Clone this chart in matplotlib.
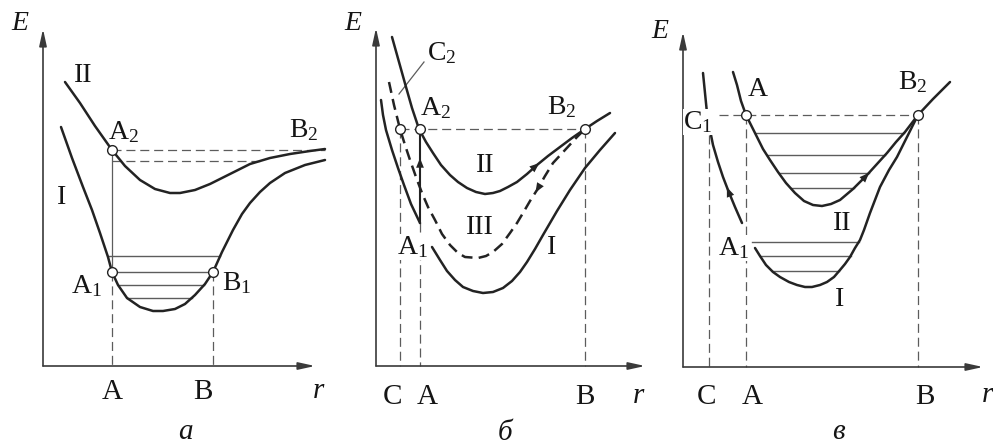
import numpy as np
import matplotlib
matplotlib.use("Agg")
import matplotlib.pyplot as plt

plt.rcParams['font.family'] = ['Liberation Serif', 'DejaVu Serif']
plt.rcParams['mathtext.fontset'] = 'custom'
plt.rcParams['mathtext.rm'] = 'Liberation Serif'
plt.rcParams['mathtext.it'] = 'Liberation Serif:italic'
plt.rcParams['lines.scale_dashes'] = False

# ---------------- panel "а": curves (r, E) ----------------
A_II_R = [22, 37, 52, 69, 82, 97, 112, 127, 137, 152, 167, 187, 207, 227, 247, 267, 282]
A_II_E = [284, 263, 240, 216, 200, 186, 177, 173, 173, 176, 182, 192, 202, 208, 212, 215, 217]
A_I_R = [18, 29, 40, 49, 57, 65, 69, 75, 84, 97, 110, 120, 132, 142, 152, 162, 170, 179,
         190, 199, 207, 217, 227, 242, 262, 282]
A_I_E = [239, 208, 179, 156, 133, 109, 94, 81, 68, 59, 55, 55, 57, 62, 71, 82, 94, 114,
         136, 152, 163, 174, 183, 193, 201, 206]
A_LEVELS = [110, 94, 81, 68]
A_POS = {'A': 69, 'B': 170}
A_E_A2, A_E_A1, A_E_DISS = 216, 94, 205

# ---------------- panel "б" ----------------
B_II_R = [16, 23, 30, 36, 43, 50, 57, 65, 74, 82, 91, 100, 109, 117, 124, 132, 141, 151,
          161, 172, 184, 196, 209, 221, 234]
B_II_E = [329, 304, 279, 258, 237, 224, 213, 201, 191, 184, 178, 174, 172, 173, 175, 179,
          184, 192, 201, 210, 219, 228, 237, 245, 253]
B_III_R = [13, 18, 24, 29, 34, 40, 46, 52, 59, 66, 74, 82, 89, 102, 110, 117, 126, 134,
           141, 147, 154, 161, 169, 177, 189, 201, 209]
B_III_E = [284, 261, 237, 221, 206, 189, 173, 159, 146, 132, 121, 113, 109, 108, 110, 114,
           122, 133, 143, 153, 165, 176, 190, 203, 216, 229, 237]
B_I_UP_R = [5, 7, 10, 16, 22, 28, 35, 44]
B_I_UP_E = [266, 251, 236, 216, 198, 181, 162, 143]
B_I_LO_R = [56, 64, 71, 79, 87, 97, 107, 117, 127, 136, 144, 151, 159, 167, 174, 181, 194,
            209, 224, 239]
B_I_LO_E = [119, 106, 95, 86, 79, 75, 73, 74, 78, 85, 94, 104, 117, 131, 143, 155, 176,
            198, 216, 233]
B_POS = {'C': 24, 'A': 44, 'B': 209}
B_E_TOP, B_E_A1 = 237, 143

# ---------------- panel "в" ----------------
V_II_R = [50, 54, 58, 63, 68, 74, 80, 87, 95, 103, 112, 121, 130, 139, 148, 157, 170, 184,
          194, 204, 213, 222, 235, 250, 267]
V_II_E = [295, 282, 266, 252, 242, 230, 218, 207, 195, 184, 174, 166, 162, 161, 163, 167,
          178, 192, 203, 214, 225, 235, 252, 268, 285]
V_I_UP_R = [20, 22, 24, 27, 30, 35, 40, 45, 52, 59]
V_I_UP_E = [294, 274, 254, 237, 222, 205, 190, 177, 160, 144]
V_I_LO_R = [72, 77, 83, 90, 97, 106, 114, 122, 129, 137, 144, 151, 157, 162, 167, 172, 177,
            181, 187, 197, 206, 214, 225, 235]
V_I_LO_E = [119, 111, 102, 95, 90, 85, 82, 80, 80, 82, 85, 90, 97, 103, 110, 119, 127, 137,
            154, 180, 197, 210, 232, 252]
V_LEVELS_UP = [234, 212, 194, 179]
V_LEVELS_LO = [125, 111, 96]
V_POS = {'C': 26, 'A': 63, 'B': 235}
V_E_TOP = 252

# ---------------- styles ----------------
INK = '#232323'
GREY = '#5c5c5c'
CURVE = dict(color=INK, lw=1.8, solid_capstyle='round', clip_on=False, zorder=3)
THIN = dict(color=GREY, lw=0.9, clip_on=False, zorder=2)
DASH = (0, (6.5, 3.5))
LBL = 20
TICK = 21

FIG_W, FIG_H = 993, 447
fig = plt.figure(figsize=(FIG_W / 100, FIG_H / 100), dpi=100)
fig.patch.set_facecolor('white')


def panel(x0, y0, w, h):
    ax = fig.add_axes([x0 / FIG_W, (FIG_H - y0) / FIG_H, w / FIG_W, h / FIG_H])
    ax.set_xlim(0, w)
    ax.set_ylim(0, h)
    ax.axis('off')
    return ax


def crossings(r, e, level):
    r = np.asarray(r, float)
    e = np.asarray(e, float)
    out = []
    for i in range(len(r) - 1):
        a, b = e[i] - level, e[i + 1] - level
        if a == 0:
            out.append(r[i])
        elif a * b < 0:
            t = a / (a - b)
            out.append(r[i] + t * (r[i + 1] - r[i]))
    return out


def levels(ax, r, e, lvls):
    for lv in lvls:
        xs = crossings(r, e, lv)
        ax.plot([min(xs), max(xs)], [lv, lv], color=GREY, lw=1.0, zorder=2)


def frame(ax, r_end, e_end):
    style = '-|>,head_length=1.0,head_width=0.22'
    for xy in [(0, e_end), (r_end, 0)]:
        ax.annotate('', xy=xy, xytext=(0, 0),
                    arrowprops=dict(arrowstyle=style, mutation_scale=10, lw=1.2,
                                    color='#3a3a3a', shrinkA=0, shrinkB=0))


def arrow_on(ax, r, e, i, reverse=False):
    p = np.array([r[i], e[i]], float)
    d = np.array([r[i + 1] - r[i - 1], e[i + 1] - e[i - 1]], float)
    d /= np.hypot(*d)
    if reverse:
        d = -d
    ax.annotate('', xy=p + d * 3, xytext=p - d * 5,
                arrowprops=dict(arrowstyle='-|>,head_length=1.0,head_width=0.4',
                                mutation_scale=7, lw=0, color=INK,
                                shrinkA=0, shrinkB=0), zorder=4)


def dot(ax, r, e):
    ax.plot([r], [e], 'o', ms=7, mfc='white', mec=INK, mew=1.0, zorder=6, clip_on=False)


def label(ax, r, e, s, size=LBL, white=False, **kw):
    bbox = dict(fc='white', ec='none', pad=0.3) if white else None
    ax.text(r, e, s, fontsize=size, ha='center', va='center', color='#151515',
            bbox=bbox, zorder=5, **kw)


# ================= а =================
ax = panel(43, 366, 300, 345)
frame(ax, 272, 337)
ax.plot(A_II_R, A_II_E, **CURVE)
ax.plot(A_I_R, A_I_E, **CURVE)
levels(ax, A_I_R, A_I_E, A_LEVELS)
ra, rb = A_POS['A'], A_POS['B']
ax.plot([ra, max(A_II_R)], [A_E_A2, A_E_A2], ls=DASH, **THIN)
ax.plot([ra, max(crossings(A_II_R, A_II_E, A_E_DISS))], [A_E_DISS, A_E_DISS], ls=DASH, **THIN)
ax.plot([ra, ra], [A_E_A2, A_E_A1], **THIN)
ax.plot([ra, ra], [A_E_A1, 0], ls=DASH, **THIN)
ax.plot([rb, rb], [A_E_A1, 0], ls=DASH, **THIN)
dot(ax, ra, A_E_A2)
dot(ax, ra, A_E_A1)
dot(ax, rb, A_E_A1)
label(ax, -23, 343, 'E', size=LBL, style='italic')
label(ax, 40, 291, 'II')
label(ax, 19, 169, 'I')
label(ax, 81, 234, 'A$_2$')
label(ax, 261, 236, 'B$_2$')
label(ax, 43, 80, 'A$_1$')
label(ax, 194, 83, 'B$_1$')
label(ax, 69, -26, 'A', size=TICK)
label(ax, 160, -26, 'B', size=TICK)
label(ax, 275, -25, 'r', size=TICK, style='italic')
label(ax, 142, -66, 'а', size=TICK, style='italic')

# ================= б =================
ax = panel(376, 366, 300, 345)
frame(ax, 269, 338)
ax.plot(B_II_R, B_II_E, **CURVE)
ax.plot(B_I_UP_R, B_I_UP_E, **CURVE)
ax.plot(B_I_LO_R, B_I_LO_E, **CURVE)
ax.plot(B_III_R, B_III_E, ls=(0, (8, 4.5)), dash_capstyle='butt',
        **{k: v for k, v in CURVE.items() if k != 'solid_capstyle'})
rc, ra, rb = B_POS['C'], B_POS['A'], B_POS['B']
ax.plot([rc, rb], [B_E_TOP, B_E_TOP], ls=DASH, **THIN)
ax.plot([rc, rc], [B_E_TOP, 0], ls=DASH, **THIN)
ax.plot([rb, rb], [B_E_TOP, 0], ls=DASH, **THIN)
ax.plot([ra, ra], [B_E_A1, 0], ls=DASH, **THIN)
ax.plot([ra, ra], [B_E_A1, B_E_TOP], color=INK, lw=1.5, zorder=3)
ax.annotate('', xy=(ra, (B_E_A1 + B_E_TOP) / 2 + 18), xytext=(ra, (B_E_A1 + B_E_TOP) / 2 + 8),
            arrowprops=dict(arrowstyle='-|>,head_length=1.0,head_width=0.4',
                            mutation_scale=7, lw=0, color=INK, shrinkA=0, shrinkB=0))
arrow_on(ax, B_II_R, B_II_E, 18)
arrow_on(ax, B_III_R, B_III_E, 21, reverse=True)
ax.plot([48, 23], [304, 272], color=GREY, lw=0.9)
dot(ax, rc, B_E_TOP)
dot(ax, ra, B_E_TOP)
dot(ax, rb, B_E_TOP)
label(ax, -23, 343, 'E', size=LBL, style='italic')
label(ax, 66, 313, 'C$_2$')
label(ax, 60, 258, 'A$_2$')
label(ax, 186, 259, 'B$_2$')
label(ax, 109, 201, 'II')
label(ax, 104, 139, 'III')
label(ax, 176, 119, 'I')
label(ax, 36, 119, 'A$_1$', white=True)
label(ax, 16, -31, 'C', size=TICK)
label(ax, 51, -31, 'A', size=TICK)
label(ax, 209, -31, 'B', size=TICK)
label(ax, 262, -30, 'r', size=TICK, style='italic')
label(ax, 129, -67, 'б', size=TICK, style='italic')

# ================= в =================
ax = panel(683, 367, 305, 345)
frame(ax, 300, 335)
ax.plot(V_II_R, V_II_E, **CURVE)
ax.plot(V_I_UP_R, V_I_UP_E, **CURVE)
ax.plot(V_I_LO_R, V_I_LO_E, **CURVE)
levels(ax, V_II_R, V_II_E, V_LEVELS_UP)
levels(ax, V_I_UP_R + V_I_LO_R, V_I_UP_E + V_I_LO_E, V_LEVELS_LO)
rc, ra, rb = V_POS['C'], V_POS['A'], V_POS['B']
ax.plot([rc + 10, rb], [V_E_TOP, V_E_TOP], ls=DASH, **THIN)
ax.plot([rc, rc], [V_E_TOP - 20, 0], ls=DASH, **THIN)
ax.plot([ra, ra], [V_E_TOP, 0], ls=DASH, **THIN)
ax.plot([rb, rb], [V_E_TOP, 0], ls=DASH, **THIN)
arrow_on(ax, V_II_R, V_II_E, 17)
arrow_on(ax, V_I_UP_R, V_I_UP_E, 7, reverse=True)
dot(ax, ra, V_E_TOP)
dot(ax, rb, V_E_TOP)
label(ax, -23, 336, 'E', size=LBL, style='italic')
label(ax, 75, 277, 'A')
label(ax, 230, 285, 'B$_2$')
label(ax, 15, 245, 'C$_1$', white=True)
label(ax, 50, 119, 'A$_1$', white=True)
label(ax, 159, 144, 'II')
label(ax, 157, 67, 'I')
label(ax, 24, -30, 'C', size=TICK)
label(ax, 69, -30, 'A', size=TICK)
label(ax, 242, -30, 'B', size=TICK)
label(ax, 304, -28, 'r', size=TICK, style='italic')
label(ax, 155, -65, 'в', size=TICK, style='italic')

fig.savefig('out.png', dpi=100, facecolor='white')
